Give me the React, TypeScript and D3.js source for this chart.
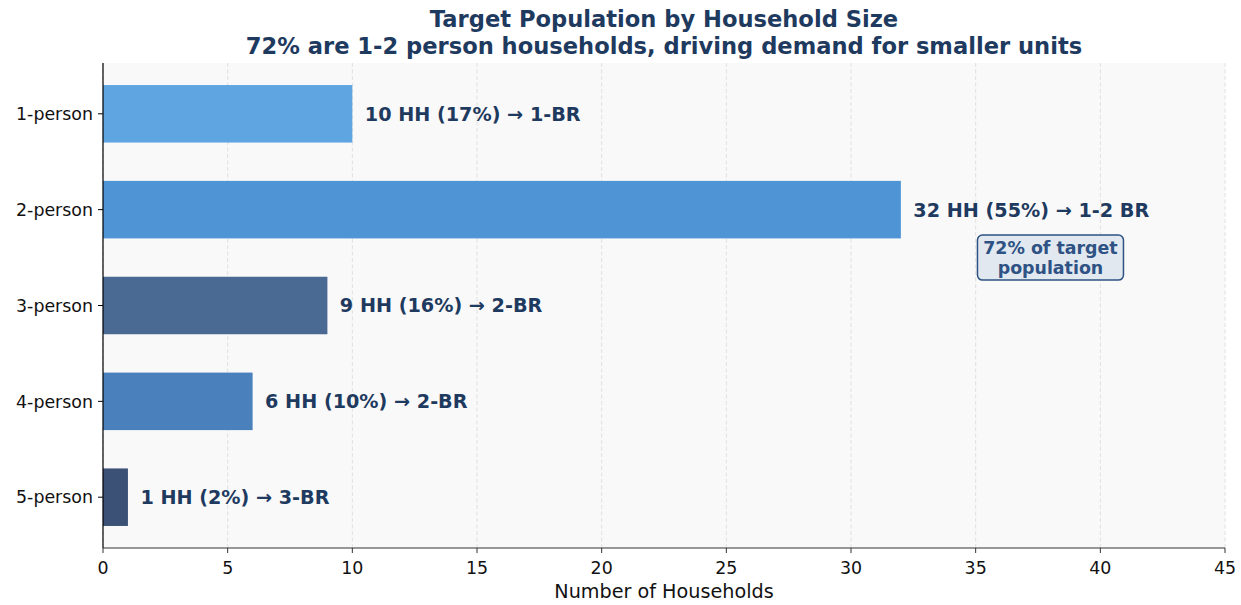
import React from "react";
import * as d3 from "d3";

const categories = ["1-person", "2-person", "3-person", "4-person", "5-person"];
const households = [10, 32, 9, 6, 1];
const barLabels = [
  "10 HH (17%) → 1-BR",
  "32 HH (55%) → 1-2 BR",
  "9 HH (16%) → 2-BR",
  "6 HH (10%) → 2-BR",
  "1 HH (2%) → 3-BR",
];
const barColors = ["#5fa5e2", "#4f95d6", "#4a6a94", "#4a80bb", "#3b5175"];
const xTicks = [0, 5, 10, 15, 20, 25, 30, 35, 40, 45];
const annotation = { x: 38, y: 1.5, lines: ["72% of target", "population"] };

const W = 1241;
const H = 605;
const left = 103;
const right = 1225;
const top = 63;
const bottom = 548;
const FONT = "'DejaVu Sans', sans-serif";
const DARK = "#1f3a5f";

export default function App() {
  const x = d3.scaleLinear().domain([0, 45]).range([left, right]);
  const y = d3.scaleLinear().domain([-0.53, 4.53]).range([top, bottom]);
  const barH = 0.6;

  return (
    <svg width={W} height={H} style={{ display: "block", position: "absolute", left: 0, top: 0 }} fontFamily={FONT}>
      <rect x={0} y={0} width={W} height={H} fill="#ffffff" />
      <rect x={left} y={top} width={right - left} height={bottom - top} fill="#f9f9f9" />
      {xTicks.map((t) => (
        <line key={"g" + t} x1={x(t)} x2={x(t)} y1={top} y2={bottom} stroke="#dddddd" strokeWidth={0.9} strokeDasharray="4,2.5" />
      ))}
      {households.map((v, i) => (
        <rect key={"b" + i} x={x(0)} y={y(i - barH / 2)} width={x(v) - x(0)} height={y(i + barH / 2) - y(i - barH / 2)} fill={barColors[i]} />
      ))}
      {households.map((v, i) => (
        <text key={"l" + i} x={x(v + 0.5)} y={y(i)} dy="0.36em" fontSize={19.2} fontWeight="bold" fill={DARK}>
          {barLabels[i]}
        </text>
      ))}
      <rect x={x(annotation.x) - 73} y={y(annotation.y) - 22.5} width={146} height={45} rx={5} fill="#e1e8f0" stroke="#2e5283" strokeWidth={1.5} />
      {annotation.lines.map((s, k) => (
        <text key={"a" + k} x={x(annotation.x)} y={y(annotation.y) + (k === 0 ? -10 : 10)} dy="0.36em" textAnchor="middle" fontSize={17.4} fontWeight="bold" fill="#2e5283">
          {s}
        </text>
      ))}
      <line x1={left} x2={left} y1={top} y2={bottom} stroke="#000" strokeWidth={1.2} />
      <line x1={left} x2={right} y1={bottom} y2={bottom} stroke="#333" strokeWidth={1.2} />
      {xTicks.map((t) => (
        <g key={"t" + t}>
          <line x1={x(t)} x2={x(t)} y1={bottom} y2={bottom + 5} stroke="#333" strokeWidth={1} />
          <text x={x(t)} y={bottom + 20} dy="0.36em" textAnchor="middle" fontSize={17.4} fill="#111">{t}</text>
        </g>
      ))}
      {categories.map((c, i) => (
        <g key={"c" + i}>
          <line x1={left - 5} x2={left} y1={y(i)} y2={y(i)} stroke="#000" strokeWidth={1} />
          <text x={left - 10} y={y(i)} dy="0.36em" textAnchor="end" fontSize={17.4} fill="#111">{c}</text>
        </g>
      ))}
      <text x={(left + right) / 2} y={598} textAnchor="middle" fontSize={19.2} fill="#111">Number of Households</text>
      <text x={(left + right) / 2} y={27} textAnchor="middle" fontSize={22.6} fontWeight="bold" fill={DARK}>Target Population by Household Size</text>
      <text x={(left + right) / 2} y={54} textAnchor="middle" fontSize={22.6} fontWeight="bold" fill={DARK}>72% are 1-2 person households, driving demand for smaller units</text>
    </svg>
  );
}
